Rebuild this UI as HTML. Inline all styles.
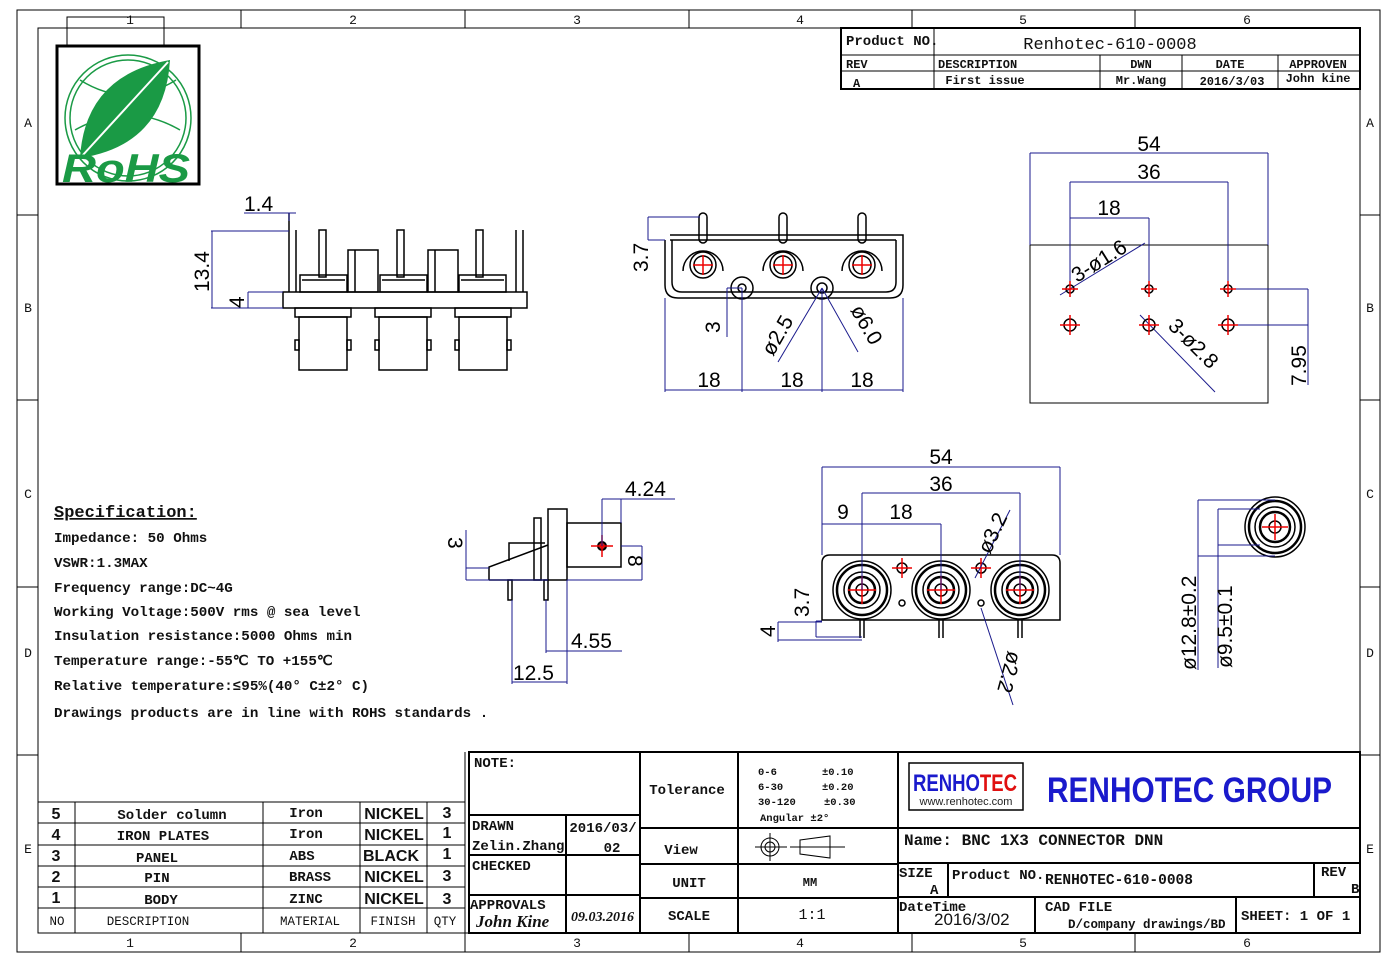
<!DOCTYPE html>
<html><head><meta charset="utf-8"><style>
html,body{margin:0;padding:0;background:#fff}
svg{display:block}
.b{stroke:#000;fill:none;stroke-width:1.5}
.t{stroke:#000;fill:none;stroke-width:1}
.d{stroke:#1a1a8c;fill:none;stroke-width:1}
.r{stroke:#e00;fill:none;stroke-width:1.5}
</style></head><body>
<svg width="1397" height="962" viewBox="0 0 1397 962" xmlns="http://www.w3.org/2000/svg" font-family="Liberation Mono, monospace">
<!-- frame -->
<rect x="17" y="10" width="1363" height="942" class="t"/>
<rect x="38" y="28" width="1322" height="905" class="t"/>
<g class="t">
<line x1="241" y1="10" x2="241" y2="28"/><line x1="465" y1="10" x2="465" y2="28"/><line x1="689" y1="10" x2="689" y2="28"/><line x1="912" y1="10" x2="912" y2="28"/><line x1="1135" y1="10" x2="1135" y2="28"/>
<line x1="241" y1="933" x2="241" y2="952"/><line x1="465" y1="933" x2="465" y2="952"/><line x1="689" y1="933" x2="689" y2="952"/><line x1="912" y1="933" x2="912" y2="952"/><line x1="1135" y1="933" x2="1135" y2="952"/>
<line x1="17" y1="215" x2="38" y2="215"/><line x1="17" y1="400" x2="38" y2="400"/><line x1="17" y1="587" x2="38" y2="587"/><line x1="17" y1="755" x2="38" y2="755"/>
<line x1="1360" y1="215" x2="1380" y2="215"/><line x1="1360" y1="400" x2="1380" y2="400"/><line x1="1360" y1="587" x2="1380" y2="587"/><line x1="1360" y1="755" x2="1380" y2="755"/>
</g>
<g font-size="13" text-anchor="middle" fill="#111">
<text x="130" y="24">1</text><text x="353" y="24">2</text><text x="577" y="24">3</text><text x="800" y="24">4</text><text x="1023" y="24">5</text><text x="1247" y="24">6</text>
<text x="130" y="947">1</text><text x="353" y="947">2</text><text x="577" y="947">3</text><text x="800" y="947">4</text><text x="1023" y="947">5</text><text x="1247" y="947">6</text>
<text x="28" y="127">A</text><text x="28" y="312">B</text><text x="28" y="498">C</text><text x="28" y="657">D</text><text x="28" y="853">E</text>
<text x="1370" y="127">A</text><text x="1370" y="312">B</text><text x="1370" y="498">C</text><text x="1370" y="657">D</text><text x="1370" y="853">E</text>
</g>

<!-- RoHS logo -->
<rect x="67" y="17" width="97" height="29" class="t"/>
<rect x="57" y="46" width="142" height="138" fill="#fff" stroke="#000" stroke-width="3"/>
<g stroke="#1a9a45" fill="none" stroke-width="1.5">
<circle cx="128" cy="118" r="63"/><circle cx="128" cy="118" r="58"/>
<path d="M80 80 Q128 110 176 80"/><path d="M75 130 Q128 100 180 130"/>
</g>
<path d="M80 158 Q85 75 170 60 Q165 145 80 158Z" fill="#1a9a45"/>
<line x1="82" y1="156" x2="168" y2="62" stroke="#fff" stroke-width="2"/>
<text x="126" y="182" text-anchor="middle" font-family="Liberation Sans,sans-serif" font-weight="bold" font-style="italic" font-size="40" fill="#1a9a45" textLength="128" lengthAdjust="spacingAndGlyphs">RoHS</text>

<!-- rev table -->
<rect x="841" y="28" width="519" height="61" stroke="#000" stroke-width="2" fill="none"/>
<g class="t"><line x1="841" y1="55" x2="1360" y2="55"/><line x1="841" y1="71" x2="1360" y2="71"/>
<line x1="934" y1="28" x2="934" y2="89"/><line x1="1100" y1="55" x2="1100" y2="89"/><line x1="1182" y1="55" x2="1182" y2="89"/><line x1="1278" y1="55" x2="1278" y2="89"/></g>
<g font-weight="bold" fill="#111">
<text x="846" y="45" font-size="14">Product NO.</text>
<text x="1110" y="49" font-size="17" font-weight="normal" text-anchor="middle">Renhotec-610-0008</text>
<g font-size="12"><text x="846" y="68">REV</text><text x="938" y="68">DESCRIPTION</text><text x="1141" y="68" text-anchor="middle">DWN</text><text x="1230" y="68" text-anchor="middle">DATE</text><text x="1318" y="68" text-anchor="middle">APPROVEN</text>
<text x="853" y="87">A</text><text x="985" y="84" text-anchor="middle">First issue</text><text x="1141" y="84" text-anchor="middle">Mr.Wang</text><text x="1232" y="85" text-anchor="middle">2016/3/03</text><text x="1318" y="82" text-anchor="middle">John kine</text></g>
</g>

<g font-family="Liberation Sans, sans-serif" font-size="21" fill="#000">
<!-- top-left side view -->
<g class="b">
<rect x="283" y="292" width="244" height="16"/>
<line x1="289" y1="213" x2="289" y2="292"/><line x1="296" y1="230" x2="296" y2="292"/>
<line x1="516" y1="230" x2="516" y2="292"/><line x1="523" y1="230" x2="523" y2="292"/>
<rect x="319" y="230" width="7" height="47"/><rect x="397" y="230" width="7" height="47"/><rect x="476" y="230" width="7" height="47"/>
<rect x="348" y="250" width="30" height="42"/><rect x="428" y="250" width="30" height="42"/><line x1="355" y1="250" x2="355" y2="292"/><line x1="435" y1="250" x2="435" y2="292"/>
<rect x="300" y="275" width="47" height="17"/><rect x="380" y="275" width="47" height="17"/><rect x="459" y="275" width="47" height="17"/>
<line x1="302" y1="280" x2="345" y2="280"/><line x1="382" y1="280" x2="425" y2="280"/><line x1="461" y1="280" x2="504" y2="280"/>
<rect x="295" y="308" width="56" height="9"/><rect x="375" y="308" width="56" height="9"/><rect x="455" y="308" width="56" height="9"/>
<rect x="299" y="317" width="48" height="53"/><rect x="379" y="317" width="48" height="53"/><rect x="459" y="317" width="48" height="53"/>
<rect x="295" y="340" width="4" height="10"/><rect x="347" y="340" width="4" height="10"/><rect x="375" y="340" width="4" height="10"/><rect x="427" y="340" width="4" height="10"/><rect x="455" y="340" width="4" height="10"/><rect x="507" y="340" width="4" height="10"/>
</g>
<g class="d"><line x1="244" y1="213" x2="296" y2="213"/><line x1="289" y1="213" x2="289" y2="221"/>
<line x1="211" y1="231" x2="289" y2="231"/><line x1="212" y1="231" x2="212" y2="308"/><line x1="211" y1="308" x2="283" y2="308"/>
<line x1="248" y1="292" x2="283" y2="292"/><line x1="248" y1="292" x2="248" y2="308"/></g>
<text x="244" y="211">1.4</text>
<text transform="translate(209,292) rotate(-90)">13.4</text>
<text transform="translate(244,308) rotate(-90)">4</text>

<!-- top-middle view -->
<g class="b">
<path d="M665 240 L665 285 Q665 298 678 298 L890 298 Q903 298 903 285 L903 235 L670 235"/>
<path d="M672 240 L672 282 Q672 292 682 292 L886 292 Q896 292 896 282 L896 240"/>
<line x1="670" y1="240" x2="896" y2="240"/>
</g>
<g class="b" transform="translate(703,265)"><rect x="-4" y="-52" width="8" height="30" rx="4"/><path d="M-20 6 A20 20 0 1 1 20 6"/><circle r="13"/><circle r="9"/></g>
<g class="b" transform="translate(783,265)"><rect x="-4" y="-52" width="8" height="30" rx="4"/><path d="M-20 6 A20 20 0 1 1 20 6"/><circle r="13"/><circle r="9"/></g>
<g class="b" transform="translate(862,265)"><rect x="-4" y="-52" width="8" height="30" rx="4"/><path d="M-20 6 A20 20 0 1 1 20 6"/><circle r="13"/><circle r="9"/></g>
<g class="r"><path d="M693 265h20M703 255v20M773 265h20M783 255v20M852 265h20M862 255v20"/></g>
<g class="b"><circle cx="742" cy="288" r="11"/><circle cx="742" cy="288" r="4"/><circle cx="822" cy="288" r="11"/><circle cx="822" cy="288" r="5"/></g>
<g class="d"><line x1="648" y1="217" x2="700" y2="217"/><line x1="648" y1="217" x2="648" y2="240"/><line x1="648" y1="240" x2="665" y2="240"/>
<line x1="727" y1="288" x2="742" y2="288"/><line x1="727" y1="288" x2="727" y2="337"/>
<line x1="665" y1="298" x2="665" y2="392"/><line x1="742" y1="288" x2="742" y2="392"/><line x1="822" y1="288" x2="822" y2="392"/><line x1="903" y1="298" x2="903" y2="392"/>
<line x1="665" y1="390" x2="903" y2="390"/>
<line x1="822" y1="288" x2="778" y2="362"/><line x1="822" y1="288" x2="858" y2="352"/></g>
<text transform="translate(648,272) rotate(-90)">3.7</text>
<text transform="translate(720,333) rotate(-90)">3</text>
<text x="709" y="387" text-anchor="middle">18</text><text x="792" y="387" text-anchor="middle">18</text><text x="862" y="387" text-anchor="middle">18</text>
<text transform="translate(773,357) rotate(-60)">ø2.5</text>
<text transform="translate(850,310) rotate(60)">ø6.0</text>

<!-- top-right PCB layout -->
<rect x="1030" y="245" width="238" height="158" class="t"/>
<g class="d"><line x1="1030" y1="153" x2="1268" y2="153"/><line x1="1030" y1="153" x2="1030" y2="245"/><line x1="1268" y1="153" x2="1268" y2="245"/>
<line x1="1070" y1="182" x2="1228" y2="182"/><line x1="1070" y1="182" x2="1070" y2="289"/><line x1="1228" y1="182" x2="1228" y2="289"/>
<line x1="1070" y1="218" x2="1149" y2="218"/><line x1="1149" y1="218" x2="1149" y2="289"/>
<line x1="1060" y1="295" x2="1145" y2="243"/><line x1="1140" y1="315" x2="1215" y2="392"/>
<line x1="1228" y1="289" x2="1308" y2="289"/><line x1="1228" y1="325" x2="1308" y2="325"/><line x1="1308" y1="289" x2="1308" y2="385"/></g>
<g class="b" stroke-width="2"><circle cx="1070" cy="289" r="4"/><circle cx="1149" cy="289" r="4"/><circle cx="1228" cy="289" r="4"/>
<circle cx="1070" cy="325" r="6"/><circle cx="1149" cy="325" r="6"/><circle cx="1228" cy="325" r="6"/></g>
<g class="r"><path d="M1062 289h16M1070 281v16M1141 289h16M1149 281v16M1220 289h16M1228 281v16M1060 325h20M1070 315v20M1139 325h20M1149 315v20M1218 325h20M1228 315v20"/></g>
<text x="1149" y="151" text-anchor="middle">54</text><text x="1149" y="179" text-anchor="middle">36</text><text x="1109" y="215" text-anchor="middle">18</text>
<text transform="translate(1077,283) rotate(-32)">3-ø1.6</text>
<text transform="translate(1167,327) rotate(45)">3-ø2.8</text>
<text transform="translate(1306,386) rotate(-90)">7.95</text>

<!-- side view bottom-left -->
<g class="b">
<rect x="548" y="509" width="19" height="71"/>
<rect x="567" y="523" width="54" height="44"/>
<path d="M489 580 L489 567 L548 545"/><line x1="489" y1="580" x2="548" y2="580"/>
<rect x="534" y="518" width="7" height="62"/>
<path d="M509 561 L509 543 L545 543"/>
<rect x="508" y="580" width="4" height="20"/><rect x="544" y="580" width="4" height="20"/>
</g>
<circle cx="602" cy="546" r="4" stroke="#000" stroke-width="2" fill="#c22"/>
<g class="r"><path d="M591 546h22M602 535v22"/></g>
<g class="d"><line x1="602" y1="499" x2="675" y2="499"/><line x1="602" y1="499" x2="602" y2="546"/><line x1="621" y1="499" x2="621" y2="523"/>
<line x1="466" y1="530" x2="466" y2="580"/><line x1="466" y1="568" x2="489" y2="568"/><line x1="466" y1="580" x2="548" y2="580"/>
<line x1="621" y1="546" x2="642" y2="546"/><line x1="642" y1="546" x2="642" y2="580"/><line x1="567" y1="580" x2="642" y2="580"/>
<line x1="546" y1="600" x2="546" y2="653"/><line x1="546" y1="651" x2="622" y2="651"/><line x1="567" y1="580" x2="567" y2="684"/>
<line x1="512" y1="600" x2="512" y2="684"/><line x1="512" y1="682" x2="567" y2="682"/></g>
<text x="625" y="496">4.24</text>
<text transform="translate(448,537) rotate(90)">3</text>
<text transform="translate(628,555) rotate(90)">8</text>
<text x="571" y="648">4.55</text>
<text x="513" y="680">12.5</text>

<!-- front view bottom middle -->
<g class="b">
<path d="M822 620 L822 563 Q822 555 830 555 L1052 555 Q1060 555 1060 563 L1060 620 Z"/>
</g>
<g class="b" transform="translate(862,590)"><circle r="29"/><circle r="25" stroke-width="2.5"/><circle r="18"/><circle r="13" stroke-width="2.5"/><circle r="6"/></g>
<g class="b" transform="translate(941,590)"><circle r="29"/><circle r="25" stroke-width="2.5"/><circle r="18"/><circle r="13" stroke-width="2.5"/><circle r="6"/></g>
<g class="b" transform="translate(1020,590)"><circle r="29"/><circle r="25" stroke-width="2.5"/><circle r="18"/><circle r="13" stroke-width="2.5"/><circle r="6"/></g>
<g class="b"><circle cx="902" cy="568" r="5"/><circle cx="981" cy="568" r="5"/><circle cx="902" cy="603" r="3"/><circle cx="981" cy="603" r="3"/>
<path d="M860 620v18M864 620v18M939 620v18M943 620v18M1018 620v18M1022 620v18"/></g>
<g class="r"><path d="M848 590h28M862 576v28M927 590h28M941 576v28M1006 590h28M1020 576v28M892 568h20M902 558v20M971 568h20M981 558v20"/></g>
<g class="d"><line x1="822" y1="467" x2="1060" y2="467"/><line x1="822" y1="467" x2="822" y2="555"/><line x1="1060" y1="467" x2="1060" y2="555"/>
<line x1="862" y1="493" x2="1020" y2="493"/><line x1="862" y1="493" x2="862" y2="590"/><line x1="1020" y1="493" x2="1020" y2="590"/>
<line x1="822" y1="524" x2="941" y2="524"/><line x1="941" y1="524" x2="941" y2="590"/>
<line x1="1010" y1="510" x2="975" y2="578"/><line x1="981" y1="608" x2="1013" y2="705"/>
<line x1="816" y1="621" x2="822" y2="621"/><line x1="816" y1="621" x2="816" y2="637"/><line x1="816" y1="637" x2="862" y2="637"/>
<line x1="778" y1="622" x2="778" y2="642"/><line x1="778" y1="622" x2="822" y2="622"/><line x1="778" y1="640" x2="862" y2="640"/></g>
<text x="941" y="464" text-anchor="middle">54</text><text x="941" y="491" text-anchor="middle">36</text>
<text x="843" y="519" text-anchor="middle">9</text><text x="901" y="519" text-anchor="middle">18</text>
<text transform="translate(990,555) rotate(-65)">ø3.2</text>
<text transform="translate(1008,650) rotate(105)">ø2.2</text>
<text transform="translate(809,617) rotate(-90)">3.7</text>
<text transform="translate(775,637) rotate(-90)">4</text>

<!-- end view far right -->
<g class="b" transform="translate(1275,527)"><circle r="30"/><circle r="26" stroke-width="2.5"/><circle r="20"/><circle r="15" stroke-width="2.5"/><circle r="6"/></g>
<g class="r"><path d="M1262 527h26M1275 514v26"/></g>
<g class="d"><line x1="1198" y1="500" x2="1275" y2="500"/><line x1="1198" y1="500" x2="1198" y2="670"/><line x1="1198" y1="556" x2="1275" y2="556"/>
<line x1="1218" y1="509" x2="1260" y2="509"/><line x1="1218" y1="509" x2="1218" y2="668"/><line x1="1218" y1="545" x2="1260" y2="545"/></g>
<text transform="translate(1196,670) rotate(-90)">ø12.8±0.2</text>
<text transform="translate(1232,668) rotate(-90)">ø9.5±0.1</text>
</g>

<!-- spec -->
<g font-family="Liberation Mono, monospace" font-weight="bold" font-size="14.2" fill="#111">
<text x="54" y="517" font-size="17" text-decoration="underline">Specification:</text>
<text x="54" y="542">Impedance: 50 Ohms</text>
<text x="54" y="567">VSWR:1.3MAX</text>
<text x="54" y="592">Frequency range:DC~4G</text>
<text x="54" y="616">Working Voltage:500V rms @ sea level</text>
<text x="54" y="640">Insulation resistance:5000 Ohms min</text>
<text x="54" y="665">Temperature range:-55℃ TO +155℃</text>
<text x="54" y="690">Relative temperature:≤95%(40° C±2° C)</text>
<text x="54" y="717">Drawings products are in line with ROHS standards .</text>
</g>

<!-- parts table -->
<g class="t">
<line x1="38" y1="802" x2="465" y2="802"/><line x1="38" y1="823" x2="465" y2="823"/><line x1="38" y1="845" x2="465" y2="845"/><line x1="38" y1="866" x2="465" y2="866"/><line x1="38" y1="887" x2="465" y2="887"/><line x1="38" y1="908" x2="465" y2="908"/>
<line x1="75" y1="802" x2="75" y2="933"/><line x1="263" y1="802" x2="263" y2="933"/><line x1="360" y1="802" x2="360" y2="933"/><line x1="427" y1="802" x2="427" y2="933"/><line x1="465" y1="752" x2="465" y2="933"/>
</g>
<g font-weight="bold" font-size="14" text-anchor="middle" fill="#111">
<text x="172" y="819">Solder column</text><text x="306" y="817">Iron</text>
<text x="163" y="840">IRON PLATES</text><text x="306" y="838">Iron</text>
<text x="157" y="862">PANEL</text><text x="302" y="860">ABS</text>
<text x="157" y="882">PIN</text><text x="310" y="881">BRASS</text>
<text x="161" y="904">BODY</text><text x="306" y="903">ZINC</text>
</g>
<g font-family="Liberation Sans, sans-serif" font-weight="bold" font-size="16" text-anchor="middle" fill="#111">
<text x="56" y="819">5</text><text x="394" y="819">NICKEL</text><text x="447" y="818">3</text>
<text x="56" y="840">4</text><text x="394" y="840">NICKEL</text><text x="447" y="838">1</text>
<text x="56" y="861">3</text><text x="391" y="861">BLACK</text><text x="447" y="859">1</text>
<text x="56" y="882">2</text><text x="394" y="882">NICKEL</text><text x="447" y="881">3</text>
<text x="56" y="903">1</text><text x="394" y="904">NICKEL</text><text x="447" y="904">3</text>
</g>
<g text-anchor="middle" font-size="12.5" fill="#111"><text x="57" y="925">NO</text><text x="148" y="925">DESCRIPTION</text><text x="310" y="925">MATERIAL</text><text x="393" y="925">FINISH</text><text x="445" y="925">QTY</text></g>

<!-- title block -->
<g stroke="#000" fill="none" stroke-width="2">
<rect x="469" y="752" width="891" height="181"/>
<line x1="640" y1="752" x2="640" y2="933"/><line x1="738" y1="752" x2="738" y2="933"/><line x1="898" y1="752" x2="898" y2="933"/>
<line x1="469" y1="815" x2="640" y2="815"/><line x1="469" y1="855" x2="640" y2="855"/><line x1="469" y1="895" x2="640" y2="895"/>
<line x1="566" y1="815" x2="566" y2="933"/>
<line x1="640" y1="828" x2="1360" y2="828"/><line x1="640" y1="864" x2="898" y2="864"/><line x1="640" y1="898" x2="898" y2="898"/>
<line x1="898" y1="863" x2="1360" y2="863"/><line x1="898" y1="897" x2="1360" y2="897"/>
<line x1="948" y1="863" x2="948" y2="897"/><line x1="1314" y1="863" x2="1314" y2="897"/>
<line x1="1035" y1="897" x2="1035" y2="933"/><line x1="1236" y1="897" x2="1236" y2="933"/>
</g>
<g font-weight="bold" font-size="14" fill="#111">
<text x="474" y="767">NOTE:</text>
<text x="472" y="830">DRAWN</text><text x="472" y="850">Zelin.Zhang</text>
<text x="603" y="832" text-anchor="middle">2016/03/</text><text x="612" y="852" text-anchor="middle">02</text>
<text x="472" y="870">CHECKED</text>
<text x="470" y="909">APPROVALS</text>
<text x="687" y="794" text-anchor="middle">Tolerance</text>
<text x="681" y="854" text-anchor="middle">View</text>
<text x="689" y="887" text-anchor="middle">UNIT</text>
<text x="689" y="920" text-anchor="middle">SCALE</text>
<text x="810" y="886" text-anchor="middle" font-size="12">MM</text>
<text x="812" y="919" text-anchor="middle" font-size="15" font-weight="normal">1:1</text>
<text x="904" y="845" font-size="16">Name: BNC 1X3 CONNECTOR DNN</text>
<text x="899" y="877">SIZE</text><text x="930" y="894">A</text>
<text x="952" y="879">Product NO.</text><text x="1045" y="884" font-size="14.5">RENHOTEC-610-0008</text>
<text x="1321" y="876">REV</text><text x="1351" y="893">B</text>
<text x="899" y="911">DateTime</text><text x="934" y="925" font-family="Liberation Sans, sans-serif" font-weight="normal" font-size="17">2016/3/02</text>
<text x="1045" y="911">CAD FILE</text><text x="1068" y="928" font-size="12.5">D/company drawings/BD</text>
<text x="1241" y="920">SHEET: 1 OF 1</text>
</g>
<text x="476" y="927" font-family="Liberation Serif, serif" font-style="italic" font-weight="bold" font-size="17" fill="#111">John Kine</text>
<text x="571" y="921" font-family="Liberation Serif, serif" font-style="italic" font-weight="bold" font-size="14" fill="#111">09.03.2016</text>
<g font-weight="bold" font-size="10.5" fill="#111">
<text x="758" y="775">0-6</text><text x="822" y="775">±0.10</text>
<text x="758" y="790">6-30</text><text x="822" y="790">±0.20</text>
<text x="758" y="805">30-120</text><text x="824" y="805">±0.30</text>
<text x="760" y="821">Angular ±2°</text></g>
<g class="t"><circle cx="770" cy="847" r="9"/><circle cx="770" cy="847" r="5"/><line x1="755" y1="847" x2="787" y2="847"/><line x1="770" y1="833" x2="770" y2="861"/>
<path d="M800 840 L830 836 L830 858 L800 854 Z"/><line x1="790" y1="847" x2="845" y2="847"/></g>
<rect x="909" y="763" width="114" height="47" fill="#fff" stroke="#000" stroke-width="1.5"/>
<text x="913" y="791" font-family="Liberation Sans, sans-serif" font-weight="bold" font-size="24" fill="#1a1acc" textLength="104" lengthAdjust="spacingAndGlyphs">RENHO<tspan fill="#e01010">TEC</tspan></text>
<text x="966" y="805" font-family="Liberation Sans, sans-serif" font-size="11" fill="#222" text-anchor="middle">www.renhotec.com</text>
<text x="1047" y="802" font-family="Liberation Sans, sans-serif" font-weight="bold" font-size="35" fill="#1a1acc" textLength="285" lengthAdjust="spacingAndGlyphs">RENHOTEC GROUP</text>
</svg>
</body></html>
